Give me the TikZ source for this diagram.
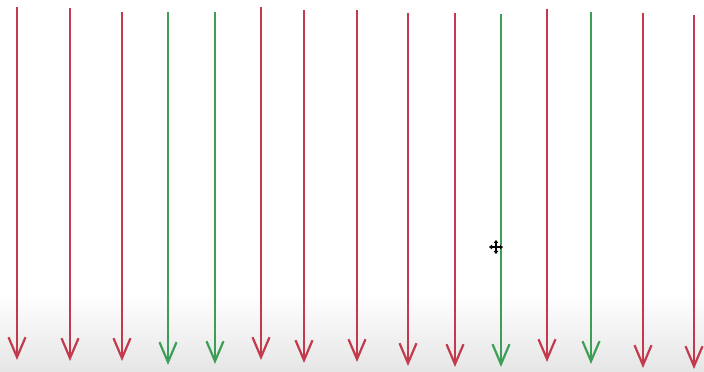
\documentclass[tikz,border=0pt]{standalone}
\usetikzlibrary{arrows.meta}
\definecolor{arrred}{HTML}{C23A4C}
\definecolor{arrgreen}{HTML}{3D9E58}
\tikzset{
  vec/.style={line width=2.2pt, -{Straight Barb[length=20pt,width=17pt,line width=2.2pt]}},
  redvec/.style={vec, draw=arrred},
  greenvec/.style={vec, draw=arrgreen},
}
\begin{document}
\begin{tikzpicture}[x=1pt,y=1pt]
\fill[white] (0,0) rectangle (704,372);
\shade[top color=white,bottom color=black!10] (0,0) rectangle (704,80);
\useasboundingbox (0,0) rectangle (704,372);
% x, top(px), tip(px), style
\foreach \i/\x/\t/\b/\s in {1/17/7/360/redvec,2/70/8/361/redvec,3/122/12/361/redvec,4/168/12/365/greenvec,5/215/12/364/greenvec,6/261/7/360/redvec,7/304/10/363/redvec,8/357/10/362/redvec,9/408/13/366/redvec,10/455/13/367/redvec,11/501/14/367/greenvec,12/547/9/362/redvec,13/591/12/364/greenvec,14/643/13/368/redvec,15/694/15/369/redvec}{
  \coordinate (t\i) at (\x,372-\t);
  \coordinate (b\i) at (\x,372-\b);
  \draw[\s] (t\i) -- (b\i);
}
% move cursor
\coordinate (cur) at (496,125);
\begin{scope}[shift={(cur)}]
  \draw[white,line width=3pt] (-7,0) -- (7,0) (0,-7) -- (0,7);
  \draw[black,line width=1.4pt,{Triangle[length=3pt,width=4.5pt]}-{Triangle[length=3pt,width=4.5pt]}] (-7,0) -- (7,0);
  \draw[black,line width=1.4pt,{Triangle[length=3pt,width=4.5pt]}-{Triangle[length=3pt,width=4.5pt]}] (0,-7) -- (0,7);
\end{scope}
\end{tikzpicture}
\end{document}
